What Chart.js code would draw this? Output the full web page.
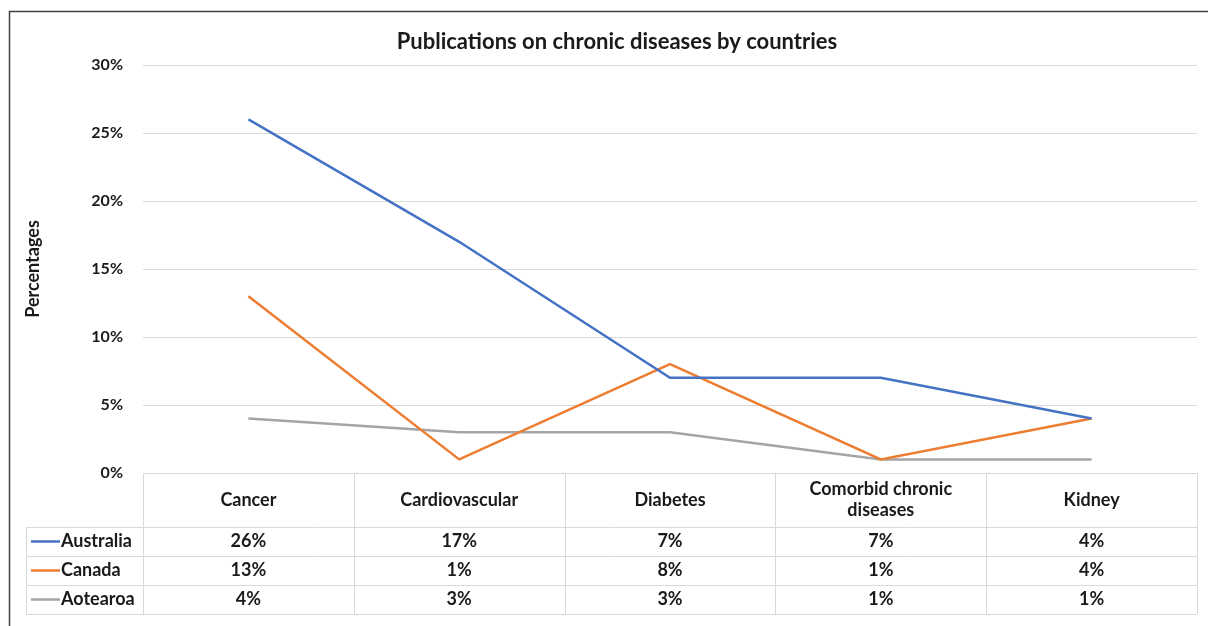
<!DOCTYPE html>
<html>
<head>
<meta charset="utf-8">
<script src="https://cdn.jsdelivr.net/npm/chart.js@4.4.0/dist/chart.umd.min.js"></script>
<style>
  html, body { margin: 0; padding: 0; background: #fff; }
  #wrap { width: 1208px; height: 626px; position: relative; }
</style>
</head>
<body>
<div id="wrap"><canvas id="chart"></canvas></div>
<script>
// data
const categories = ['Cancer', 'Cardiovascular', 'Diabetes', ['Comorbid chronic', 'diseases'], 'Kidney'];
const seriesNames = ['Australia', 'Canada', 'Aotearoa'];
const australia = [26, 17, 7, 7, 4];
const canada = [13, 1, 8, 1, 4];
const aotearoa = [4, 3, 3, 1, 1];
const yTicks = [0, 5, 10, 15, 20, 25, 30];
const chartTitle = 'Publications on chronic diseases by countries';

const colors = ['#4472C4', '#ED7D31', '#A5A5A5'];
const FONT = 'Lato, "Open Sans", sans-serif';
const TEXT = '#1a1a1a';
const LINE = '#d9d9d9';

// title, data table under the plot (drawn from the x scale) and frame
const tablePlugin = {
  id: 'dataTable',
  beforeDraw(chart) {
    const c = chart.ctx;
    c.save();
    c.fillStyle = '#fff';
    c.fillRect(0, 0, chart.width, chart.height);
    c.restore();
  },
  afterDraw(chart) {
    const c = chart.ctx;
    const x = chart.scales.x;
    const area = chart.chartArea;
    const headH = 54, rowH = 29, legendLeft = 26;
    const top = area.bottom;
    const rowsTop = top + headH;
    const bottom = rowsTop + rowH * seriesNames.length;
    const edges = categories.map((_, i) => x.getPixelForValue(i - 0.5));
    edges.push(x.getPixelForValue(categories.length - 0.5));

    c.save();
    // title, centred over the table + plot block like Excel does
    c.fillStyle = TEXT;
    c.font = 'bold 22px ' + FONT;
    c.textAlign = 'center';
    c.textBaseline = 'middle';
    c.fillText(chartTitle, (legendLeft + chart.width) / 2, 42);

    c.strokeStyle = LINE;
    c.lineWidth = 1;
    c.beginPath();
    // horizontal lines
    c.moveTo(edges[0], top + 0.5); c.lineTo(area.right, top + 0.5);
    for (let r = 0; r <= seriesNames.length; r++) {
      const y = Math.round(rowsTop + r * rowH) + 0.5;
      c.moveTo(legendLeft, y); c.lineTo(area.right, y);
    }
    // vertical lines
    edges.forEach(ex => { const xx = Math.round(ex) + 0.5; c.moveTo(xx, top); c.lineTo(xx, bottom); });
    c.moveTo(legendLeft + 0.5, rowsTop); c.lineTo(legendLeft + 0.5, bottom);
    c.stroke();

    c.font = 'bold 18px ' + FONT;
    categories.forEach((cat, i) => {
      const cx = x.getPixelForValue(i);
      const lines = Array.isArray(cat) ? cat : [cat];
      lines.forEach((l, k) => {
        c.fillText(l, cx, top + headH / 2 + (k - (lines.length - 1) / 2) * 21);
      });
    });

    const data = [australia, canada, aotearoa];
    seriesNames.forEach((name, r) => {
      const cy = rowsTop + r * rowH + rowH / 2;
      c.strokeStyle = colors[r];
      c.lineWidth = 2.5;
      c.beginPath();
      c.moveTo(31, cy); c.lineTo(60, cy);
      c.stroke();
      c.textAlign = 'left';
      c.fillText(name, 61, cy);
      c.textAlign = 'center';
      data[r].forEach((v, i) => c.fillText(v + '%', x.getPixelForValue(i), cy));
    });

    // chart frame (left and top edges visible)
    c.strokeStyle = '#404040';
    c.lineWidth = 1.5;
    c.beginPath();
    c.moveTo(9.5, chart.height); c.lineTo(9.5, 11.5); c.lineTo(chart.width, 11.5);
    c.stroke();
    c.restore();
  }
};

new Chart(document.getElementById('chart'), {
  type: 'line',
  data: {
    labels: categories,
    datasets: [
      { label: seriesNames[0], data: australia, borderColor: colors[0], backgroundColor: colors[0] },
      { label: seriesNames[1], data: canada, borderColor: colors[1], backgroundColor: colors[1] },
      { label: seriesNames[2], data: aotearoa, borderColor: colors[2], backgroundColor: colors[2] }
    ]
  },
  options: {
    responsive: true,
    maintainAspectRatio: false,
    animation: false,
    elements: {
      line: { borderWidth: 2.5, tension: 0 },
      point: { radius: 0, hoverRadius: 0 }
    },
    layout: { padding: { top: 65, right: 11, bottom: 153, left: 0 } },
    plugins: {
      legend: { display: false },
      tooltip: { enabled: false },
      title: { display: false }
    },
    scales: {
      x: {
        display: false,
        offset: true
      },
      y: {
        min: 0,
        max: 30,
        afterFit(s) { s.width = 143; },
        afterBuildTicks(s) { s.ticks = yTicks.map(v => ({ value: v })); },
        border: { display: false },
        grid: { color: LINE, drawTicks: false },
        ticks: {
          padding: 20,
          color: TEXT,
          font: { family: FONT, size: 16, weight: 'bold' },
          callback: v => v + '%'
        },
        title: {
          display: true,
          text: 'Percentages',
          color: TEXT,
          font: { family: FONT, size: 18, weight: 'bold' },
          padding: { top: 22, bottom: 0 }
        }
      }
    }
  },
  plugins: [tablePlugin]
});
</script>
</body>
</html>
